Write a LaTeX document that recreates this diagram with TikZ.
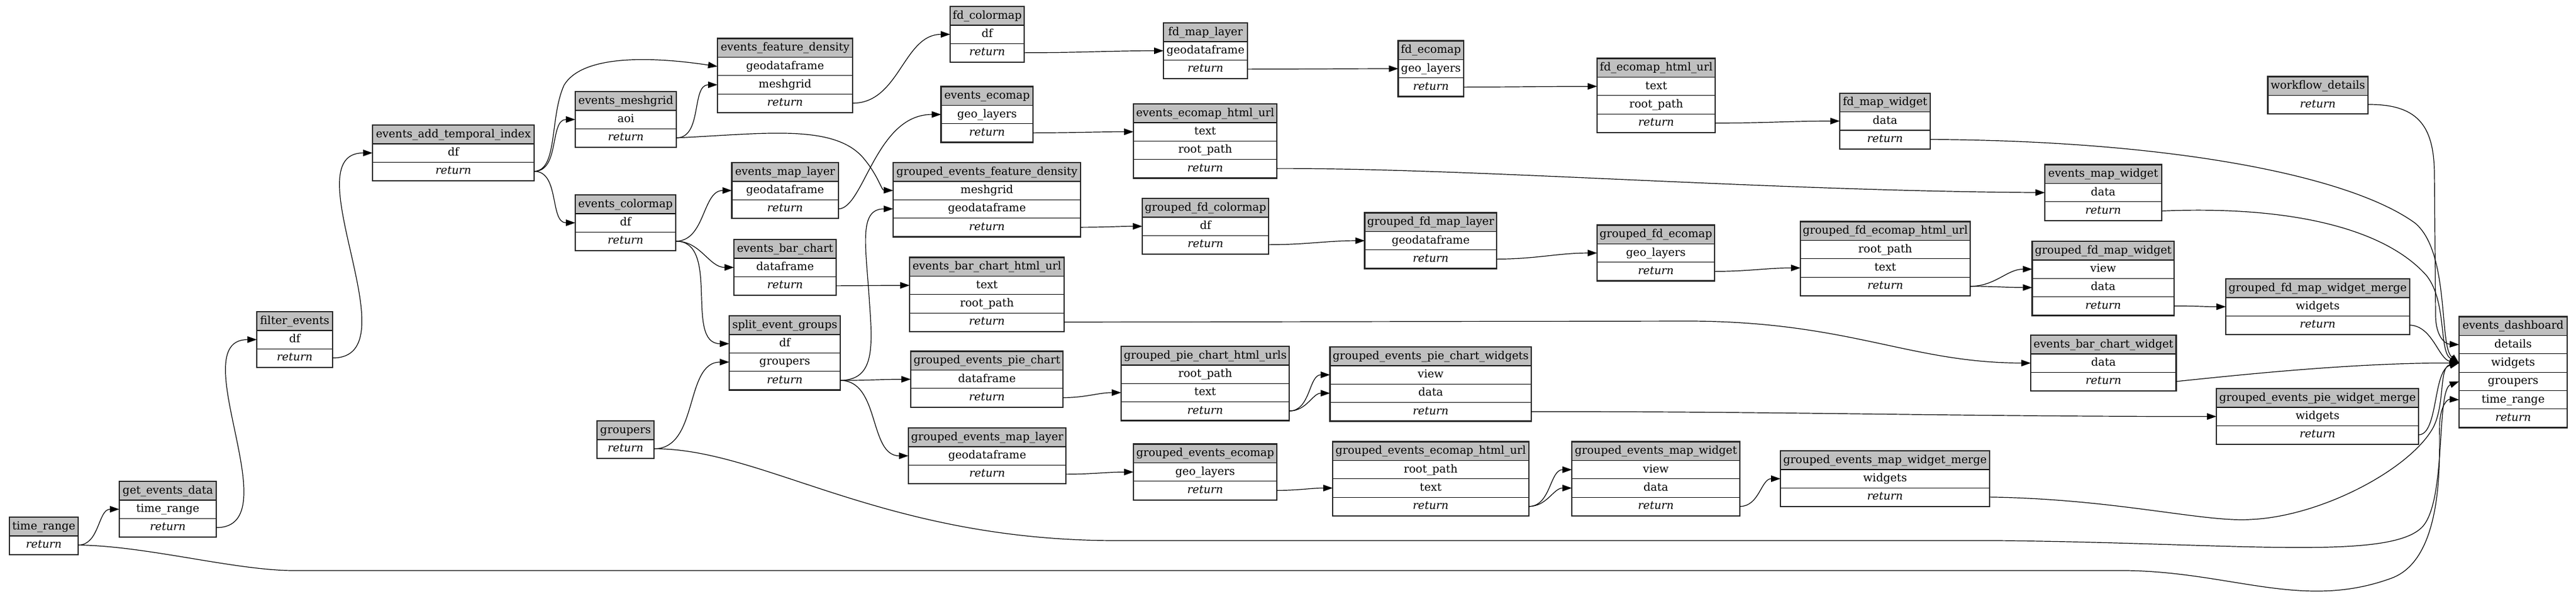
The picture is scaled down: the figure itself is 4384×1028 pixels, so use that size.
\documentclass[tikz,border=0pt]{standalone}
\usepackage{fontspec}
\setmainfont{DejaVu Serif}
\usetikzlibrary{arrows.meta}
\definecolor{hdrgray}{RGB}{192,192,192}
\tikzset{
  cell/.style={draw=black, line width=0.6pt, minimum height=15.65pt, inner sep=0pt, anchor=north west,
    font=\fontsize{9.4}{11}\selectfont, text height=7.2pt, text depth=2.2pt},
  hdrcell/.style={cell, fill=hdrgray},
  rowcell/.style={cell, fill=white},
  outerbox/.style={draw=black!85, line width=1.15pt},
  edge/.style={draw=black, line width=0.6pt, -{Triangle[length=8pt,width=5.5pt]}},
}
\newcommand\mktable[6]{%
  \node[hdrcell, minimum width=#4*0.5pt] (#1) at (#2,#3) {#5};
  \foreach \r [count=\i] in {#6} {
    \node[rowcell, minimum width=#4*0.5pt] (#1-\i) at (#2,{#3+31.3*\i}) {\r};
    \xdef\lastrow{\i}
  }
  \draw[outerbox] (#1.north west) rectangle (#1-\lastrow.south east);
}
\begin{document}
\begin{tikzpicture}[x=0.5pt,y=-0.5pt]
\useasboundingbox[fill=white] (0,0) rectangle (4384,1028);
\mktable{tr}{16}{881}{116}{time\_range}{\textit{return}}
\mktable{ged}{203}{820}{164}{get\_events\_data}{time\_range,\textit{return}}
\mktable{fe}{437}{531}{128}{filter\_events}{df,\textit{return}}
\mktable{eati}{634}{213}{274}{events\_add\_temporal\_index}{df,\textit{return}}
\mktable{em}{979}{156}{171}{events\_meshgrid}{aoi,\textit{return}}
\mktable{ec}{979}{332}{170}{events\_colormap}{df,\textit{return}}
\mktable{efd}{1221}{65.6}{229}{events\_feature\_density}{geodataframe,meshgrid,\textit{return}}
\mktable{eml}{1245.5}{277}{180}{events\_map\_layer}{geodataframe,\textit{return}}
\mktable{ebc}{1249}{408}{173}{events\_bar\_chart}{dataframe,\textit{return}}
\mktable{seg}{1241}{538}{188}{split\_event\_groups}{df,groupers,\textit{return}}
\mktable{grp}{1016}{717}{96}{groupers}{\textit{return}}
\mktable{fdc}{1617}{11}{125}{fd\_colormap}{df,\textit{return}}
\mktable{eec}{1601.5}{147.5}{155.5}{events\_ecomap}{geo\_layers,\textit{return}}
\mktable{gefd}{1520}{277}{318}{grouped\_events\_feature\_density}{meshgrid,geodataframe,\textit{return}}
\mktable{ebchu}{1548}{438.6}{262}{events\_bar\_chart\_html\_url}{text,root\_path,\textit{return}}
\mktable{gepc}{1550}{598.6}{258}{grouped\_events\_pie\_chart}{dataframe,\textit{return}}
\mktable{geml}{1546}{729}{267}{grouped\_events\_map\_layer}{geodataframe,\textit{return}}
\mktable{fdml}{1980}{39}{142}{fd\_map\_layer}{geodataframe,\textit{return}}
\mktable{eehu}{1929}{177}{243}{events\_ecomap\_html\_url}{text,root\_path,\textit{return}}
\mktable{gfdc}{1944}{338}{214}{grouped\_fd\_colormap}{df,\textit{return}}
\mktable{gpchu}{1908}{590}{285}{grouped\_pie\_chart\_html\_urls}{root\_path,text,\textit{return}}
\mktable{gee}{1929}{756.6}{243}{grouped\_events\_ecomap}{geo\_layers,\textit{return}}
\mktable{fde}{2379.6}{69.5}{110}{fd\_ecomap}{geo\_layers,\textit{return}}
\mktable{gfdml}{2322.5}{362.5}{223.5}{grouped\_fd\_map\_layer}{geodataframe,\textit{return}}
\mktable{gepcw}{2263.5}{591}{341.5}{grouped\_events\_pie\_chart\_widgets}{view,data,\textit{return}}
\mktable{geehu}{2268}{752.6}{332.5}{grouped\_events\_ecomap\_html\_url}{root\_path,text,\textit{return}}
\mktable{fdehu}{2718}{99.6}{200}{fd\_ecomap\_html\_url}{text,root\_path,\textit{return}}
\mktable{gfde}{2718}{383.5}{199}{grouped\_fd\_ecomap}{geo\_layers,\textit{return}}
\mktable{gemw}{2675}{752.6}{285}{grouped\_events\_map\_widget}{view,data,\textit{return}}
\mktable{fdmw}{3131}{158.7}{153}{fd\_map\_widget}{data,\textit{return}}
\mktable{gfdehu}{3064}{377.6}{287.7}{grouped\_fd\_ecomap\_html\_url}{root\_path,text,\textit{return}}
\mktable{gemwm}{3030}{768}{355}{grouped\_events\_map\_widget\_merge}{widgets,\textit{return}}
\mktable{emw}{3480}{280.6}{197.5}{events\_map\_widget}{data,\textit{return}}
\mktable{gfdmw}{3458.5}{411}{240.5}{grouped\_fd\_map\_widget}{view,data,\textit{return}}
\mktable{ebcw}{3456}{571}{246.4}{events\_bar\_chart\_widget}{data,\textit{return}}
\mktable{wd}{3859.5}{130.5}{169}{workflow\_details}{\textit{return}}
\mktable{gfdmwm}{3788}{475}{311.5}{grouped\_fd\_map\_widget\_merge}{widgets,\textit{return}}
\mktable{gepwm}{3772}{662}{343}{grouped\_events\_pie\_widget\_merge}{widgets,\textit{return}}
\mktable{ed}{4185}{539.6}{182.6}{events\_dashboard}{details,widgets,groupers,time\_range,\textit{return}}

% --- connectors ---
\draw[edge] (tr-1.east) to[out=0,in=180] (ged-1.west);
\draw[edge] (tr-1.east) .. controls (250,930) and (400,972) .. (500,972) -- (3620,972)
  .. controls (3800,975) and (3920,1040) .. (4070,985) .. controls (4165,950) and (4150,760) .. (4152,720)
  .. controls (4154,690) and (4165,680) .. (ed-4.west);
\draw[edge] (ged-2.east) to[out=0,in=180] (fe-1.west);
\draw[edge] (fe-2.east) to[out=0,in=180] (eati-1.west);
\draw[edge] (eati-2.east) to[out=0,in=180] (em-1.west);
\draw[edge] (eati-2.east) .. controls (950,290) and (935,200) .. (960,145) .. controls (990,95) and (1100,95) .. (efd-1.west);
\draw[edge] (eati-2.east) to[out=0,in=180] (ec-1.west);
\draw[edge] (em-2.east) to[out=0,in=180] (efd-2.west);
\draw[edge] (em-2.east) .. controls (1300,228) and (1420,210) .. (1470,270) .. controls (1495,300) and (1500,324) .. (gefd-1.west);
\draw[edge] (efd-3.east) to[out=0,in=180] (fdc-1.west);
\draw[edge] (fdc-2.east) to[out=0,in=180] (fdml-1.west);
\draw[edge] (fdml-2.east) to[out=0,in=180] (fde-1.west);
\draw[edge] (fde-2.east) to[out=0,in=180] (fdehu-1.west);
\draw[edge] (fdehu-3.east) to[out=0,in=180] (fdmw-1.west);
\draw[edge] (fdmw-2.east) .. controls (3700,240) and (4000,300) .. (4110,380) .. controls (4170,430) and (4150,590) .. (ed-2.west);
\draw[edge] (ec-2.east) to[out=0,in=180] (eml-1.west);
\draw[edge] (ec-2.east) to[out=0,in=180] (ebc-1.west);
\draw[edge] (ec-2.east) to[out=0,in=180] (seg-1.west);
\draw[edge] (eml-2.east) .. controls (1470,356) and (1490,195) .. (eec-1.west);
\draw[edge] (eec-2.east) to[out=0,in=180] (eehu-1.west);
\draw[edge] (eehu-3.east) .. controls (2500,286) and (3000,325) .. (emw-1.west);
\draw[edge] (emw-2.east) .. controls (3900,350) and (4060,390) .. (4130,470) .. controls (4165,515) and (4150,600) .. (ed-2.west);
\draw[edge] (seg-3.east) .. controls (1485,647) and (1486,600) .. (1480,520) .. controls (1474,420) and (1460,356) .. (gefd-2.west);
\draw[edge] (seg-3.east) to[out=0,in=180] (gepc-1.west);
\draw[edge] (seg-3.east) to[out=0,in=180] (geml-1.west);
\draw[edge] (grp-1.east) to[out=0,in=180] (seg-2.west);
\draw[edge] (grp-1.east) .. controls (1300,764) and (1500,921) .. (1900,921) -- (3400,921)
  .. controls (3800,925) and (4060,955) .. (4120,900) .. controls (4165,860) and (4145,665) .. (ed-3.west);
\draw[edge] (gefd-3.east) to[out=0,in=180] (gfdc-1.west);
\draw[edge] (gfdc-2.east) to[out=0,in=180] (gfdml-1.west);
\draw[edge] (gfdml-2.east) to[out=0,in=180] (gfde-1.west);
\draw[edge] (gfde-2.east) to[out=0,in=180] (gfdehu-2.west);
\draw[edge] (gfdehu-3.east) to[out=0,in=180] (gfdmw-1.west);
\draw[edge] (gfdehu-3.east) to[out=0,in=180] (gfdmw-2.west);
\draw[edge] (gfdmw-3.east) to[out=0,in=180] (gfdmwm-1.west);
\draw[edge] (gfdmwm-2.east) .. controls (4140,555) and (4150,612) .. (ed-2.west);
\draw[edge] (ebc-2.east) to[out=0,in=180] (ebchu-1.west);
\draw[edge] (ebchu-3.east) -- (2880,547) .. controls (3150,549) and (3250,618) .. (ebcw-1.west);
\draw[edge] (ebcw-2.east) .. controls (3800,640) and (4000,618) .. (ed-2.west);
\draw[edge] (gepc-2.east) to[out=0,in=180] (gpchu-2.west);
\draw[edge] (gpchu-3.east) to[out=0,in=180] (gepcw-1.west);
\draw[edge] (gpchu-3.east) to[out=0,in=180] (gepcw-2.west);
\draw[edge] (gepcw-3.east) to[out=0,in=180] (gepwm-1.west);
\draw[edge] (gepwm-2.east) .. controls (4150,740) and (4140,630) .. (ed-2.west);
\draw[edge] (geml-2.east) to[out=0,in=180] (gee-1.west);
\draw[edge] (gee-2.east) to[out=0,in=180] (geehu-2.west);
\draw[edge] (geehu-3.east) to[out=0,in=180] (gemw-1.west);
\draw[edge] (geehu-3.east) to[out=0,in=180] (gemw-2.west);
\draw[edge] (gemw-3.east) to[out=0,in=180] (gemwm-1.west);
\draw[edge] (gemwm-2.east) .. controls (3600,850) and (3750,890) .. (3830,885) .. controls (3950,880) and (4100,800) .. (4140,730) .. controls (4162,690) and (4150,625) .. (ed-2.west);
\draw[edge] (wd-1.east) .. controls (4120,177) and (4143,220) .. (4143,300) -- (4145,540) .. controls (4146,572) and (4160,586) .. (ed-1.west);
\end{tikzpicture}
\end{document}
